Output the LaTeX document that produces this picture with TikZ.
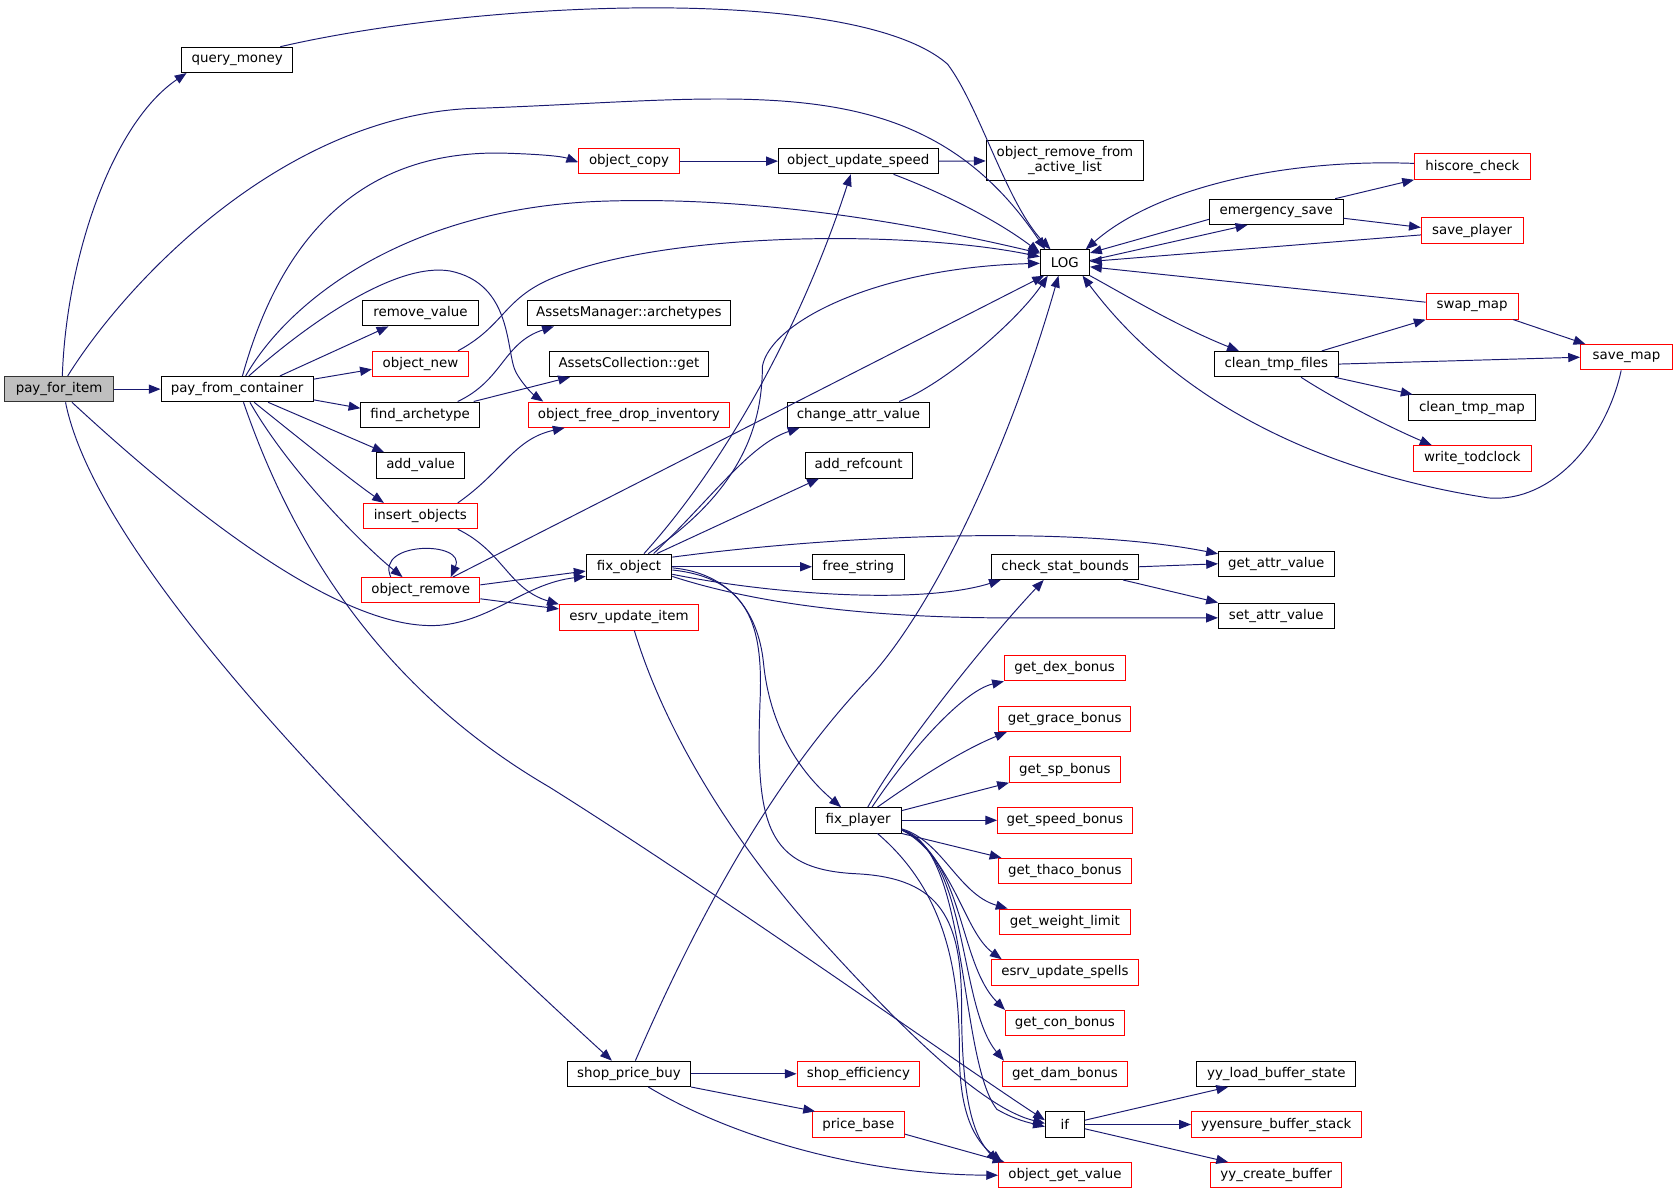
\documentclass[tikz,border=0pt]{standalone}
\usepackage{fontspec}
\setmainfont{DejaVu Sans}
\usetikzlibrary{arrows.meta}
\definecolor{edgeblue}{HTML}{191970}
\definecolor{rootgray}{HTML}{BFBFBF}

\begin{document}
\begin{tikzpicture}[x=1pt,y=-1pt,
    fn/.style={draw=black, fill=white, line width=0.9pt, minimum height=23.7pt, inner sep=0pt, font=\fontsize{12.5}{14}\selectfont},
    fnred/.style={fn, draw=red},
    fnroot/.style={fn, fill=rootgray, draw=black!80},
    call/.style={draw=edgeblue, line width=0.9pt, -{Triangle[length=11pt,width=8.5pt]}}]
  \fill[white] (0,0) rectangle (1568,1114);
  \useasboundingbox (0,0) rectangle (1568,1114);

  \node[fnroot, minimum width=101.8pt] (pfi) at (55.2,363.4) {pay\_for\_item};
  \node[fn, minimum width=103.7pt] (qmoney) at (221.5,55.9) {query\_money};
  \node[fn, minimum width=142pt] (pfc) at (221.4,363.4) {pay\_from\_container};
  \node[fn, minimum width=114.7pt] (spbuy) at (587.4,1002.8) {shop\_price\_buy};

  \node[fn, minimum width=108pt] (rmval) at (392.7,292.55) {remove\_value};
  \node[fnred, minimum width=90pt] (onew) at (392.7,339.9) {object\_new};
  \node[fn, minimum width=110.8pt] (farch) at (392.4,387.25) {find\_archetype};
  \node[fn, minimum width=83pt] (addval) at (392.7,434.6) {add\_value};
  \node[fnred, minimum width=106pt] (insobj) at (392.5,481.95) {insert\_objects};
  \node[fnred, minimum width=110.4pt] (orem) at (392.9,551.2) {object\_remove};

  \node[fnred, minimum width=94pt] (ocopy) at (587.4,150.5) {object\_copy};
  \node[fn, minimum width=190pt] (amarch) at (587.3,292.55) {AssetsManager::archetypes};
  \node[fn, minimum width=148pt] (acget) at (587.3,339.9) {AssetsCollection::get};
  \node[fnred, minimum width=187pt] (ofdi) at (587.3,387.25) {object\_free\_drop\_inventory};
  \node[fn, minimum width=80pt] (fixobj) at (587.4,529.3) {fix\_object};
  \node[fnred, minimum width=130pt] (esrvitem) at (587.4,576.65) {esrv\_update\_item};

  \node[fn, minimum width=149pt] (ouspeed) at (801.5,150.5) {object\_update\_speed};
  \node[fn, minimum width=133.4pt] (chattr) at (801.7,387.25) {change\_attr\_value};
  \node[fn, minimum width=100pt] (addref) at (801.8,434.6) {add\_refcount};
  \node[fn, minimum width=86pt] (freestr) at (801.7,529.3) {free\_string};
  \node[fn, minimum width=80.4pt] (fixpl) at (801.4,766.05) {fix\_player};
  \node[fnred, minimum width=114.7pt] (shopeff) at (801.7,1002.8) {shop\_efficiency};
  \node[fnred, minimum width=86pt] (pbase) at (801.6,1050.15) {price\_base};

  \node[fn, minimum width=147pt, minimum height=37.4pt, align=center] (orfal) at (994.5,150.3) {object\_remove\_from\\\_active\_list};
  \node[fn, minimum width=46pt] (log) at (994.5,245.2) {LOG};
  \node[fn, minimum width=137pt] (csb) at (994.7,529.3) {check\_stat\_bounds};
  \node[fnred, minimum width=112.6pt] (gdex) at (994.3,624) {get\_dex\_bonus};
  \node[fnred, minimum width=123.3pt] (ggrace) at (994.3,671.35) {get\_grace\_bonus};
  \node[fnred, minimum width=103.6pt] (gsp) at (994.5,718.7) {get\_sp\_bonus};
  \node[fnred, minimum width=125.7pt] (gspeed) at (994.5,766.05) {get\_speed\_bonus};
  \node[fnred, minimum width=123.6pt] (gthaco) at (994.5,813.4) {get\_thaco\_bonus};
  \node[fnred, minimum width=122.2pt] (gweight) at (994.5,860.75) {get\_weight\_limit};
  \node[fnred, minimum width=137.2pt] (esrvspells) at (994.5,908.1) {esrv\_update\_spells};
  \node[fnred, minimum width=111pt] (gcon) at (994.5,955.45) {get\_con\_bonus};
  \node[fnred, minimum width=117pt] (gdam) at (994.5,1002.8) {get\_dam\_bonus};
  \node[fn, minimum width=36.4pt] (nif) at (994.5,1050.15) {if};
  \node[fnred, minimum width=124pt] (ogv) at (994.5,1097.5) {object\_get\_value};

  \node[fn, minimum width=125pt] (esave) at (1191.9,197.85) {emergency\_save};
  \node[fn, minimum width=116pt] (ctfiles) at (1192,340) {clean\_tmp\_files};
  \node[fn, minimum width=108pt] (getattr) at (1191.9,526.5) {get\_attr\_value};
  \node[fn, minimum width=108pt] (setattr) at (1191.9,575) {set\_attr\_value};
  \node[fn, minimum width=148.5pt] (yyload) at (1191.9,1002.8) {yy\_load\_buffer\_state};
  \node[fnred, minimum width=158.4pt] (yyensure) at (1191.9,1050.15) {yyensure\_buffer\_stack};
  \node[fnred, minimum width=122.3pt] (yycreate) at (1191.9,1097.5) {yy\_create\_buffer};

  \node[fnred, minimum width=108pt] (hiscore) at (1375,155.6) {hiscore\_check};
  \node[fnred, minimum width=95pt] (splayer) at (1374.8,215.4) {save\_player};
  \node[fnred, minimum width=86pt] (swapmap) at (1374.8,286.2) {swap\_map};
  \node[fn, minimum width=118pt] (ctmap) at (1374.7,380.7) {clean\_tmp\_map};
  \node[fnred, minimum width=110pt] (todclock) at (1375,428) {write\_todclock};
  \node[fnred, minimum width=86pt] (savemap) at (1519,333.6) {save\_map};

  % pay_for_item
  \draw[call] ([xshift=3]pfi.north) .. controls (62,240) and (105,115) .. ([xshift=5]qmoney.south west);
  \draw[call] ([xshift=8]pfi.north) .. controls (120,260) and (270,103) .. (450,101) .. controls (700,92) and (860,60) .. ([xshift=5]log.north west);
  \draw[call] (pfi.east) -- (pfc.west);
  \draw[call] ([xshift=12]pfi.south) .. controls (180,480) and (320,590) .. (410,584) .. controls (460,580) and (490,545) .. ([yshift=-9]fixobj.west);
  \draw[call] ([xshift=6]pfi.south) .. controls (90,520) and (330,770) .. ([xshift=-16]spbuy.north);
  \draw[call] ([xshift=-12]qmoney.north east) .. controls (450,0) and (800,-15) .. (885,60) .. controls (915,100) and (940,190) .. ([xshift=10]log.north west);

  % pay_from_container
  \draw[call] ([xshift=5]pfc.north) .. controls (260,230) and (330,140) .. (470,143) .. controls (505,144) and (525,146) .. ([yshift=-1]ocopy.west);
  \draw[call] ([xshift=8]pfc.north) .. controls (270,280) and (380,195) .. (560,188) .. controls (720,182) and (880,215) .. ([yshift=8.7]log.west);
  \draw[call] ([xshift=11]pfc.north) .. controls (290,300) and (370,245) .. (420,253) .. controls (480,265) and (472,330) .. (482,348) .. controls (490,362) and (500,370) .. ([xshift=-80]ofdi.north);
  \draw[call] ([xshift=40]pfc.north) -- ([xshift=-30]rmval.south);
  \draw[call] ([yshift=-3]pfc.north east) -- ([yshift=-5]onew.west);
  \draw[call] ([yshift=-10]pfc.east) -- ([yshift=6]farch.west);
  \draw[call] ([xshift=29]pfc.south) -- ([xshift=-34]addval.north);
  \draw[call] ([xshift=16]pfc.south) .. controls (280,410) and (330,450) .. ([xshift=-34]insobj.north);
  \draw[call] ([xshift=12]pfc.south) .. controls (270,440) and (340,510) .. ([xshift=-17]orem.north);
  \draw[call] ([xshift=6]pfc.south) .. controls (270,500) and (350,640) .. (513,735) .. controls (680,840) and (890,990) .. ([yshift=4]nif.west);

  \draw[call] ([xshift=35]onew.north) .. controls (470,305) and (470,280) .. (513,261) .. controls (620,215) and (850,215) .. ([yshift=5.5]log.west);
  \draw[call] ([xshift=35]farch.north) .. controls (470,355) and (470,320) .. ([xshift=-70]amarch.south);
  \draw[call] ([xshift=50]farch.north) -- ([xshift=-55]acget.south);
  \draw[call] ([xshift=35]insobj.north) .. controls (470,440) and (480,410) .. ([xshift=-60]ofdi.south);
  \draw[call] ([xshift=35]insobj.south) .. controls (470,515) and (475,550) .. (esrvitem.north west);
  \draw[call] ([xshift=-28]orem.north) .. controls (350,505) and (436,505) .. ([xshift=28]orem.north);
  \draw[call] ([xshift=30]orem.north) -- ([xshift=4]log.south west);
  \draw[call] ([yshift=5]orem.east) -- ([yshift=-4]fixobj.west);
  \draw[call] ([yshift=-8]orem.east) -- ([yshift=8]esrvitem.west);

  % fix_object
  \draw[call] (ocopy.east) -- (ouspeed.west);
  \draw[call] (ouspeed.east) -- (orfal.west);
  \draw[call] ([xshift=33]ouspeed.south) .. controls (880,180) and (930,205) .. ([yshift=-3]log.north west);
  \draw[call] ([xshift=14]fixobj.north) .. controls (680,430) and (750,300) .. ([xshift=-7]ouspeed.south);
  \draw[call] ([xshift=18]fixobj.north) .. controls (690,460) and (712,400) .. (712,342) .. controls (720,300) and (820,250) .. ([yshift=-0.7]log.west);
  \draw[call] ([xshift=23]fixobj.north) .. controls (665,465) and (700,415) .. ([xshift=-55]chattr.south);
  \draw[call] ([xshift=26]fixobj.north) -- ([xshift=-37]addref.south);
  \draw[call] (fixobj.east) -- (freestr.west);
  \draw[call] ([yshift=9]fixobj.east) .. controls (780,500) and (1000,490) .. ([yshift=-3]getattr.north west);
  \draw[call] ([yshift=-7]fixobj.east) .. controls (720,555) and (860,565) .. ([xshift=-60]csb.south);
  \draw[call] ([yshift=-9]fixobj.east) .. controls (710,565) and (820,578) .. (960,577) -- ([yshift=-2]setattr.west);
  \draw[call] ([yshift=-1]fixobj.east) .. controls (680,535) and (708,570) .. (713,619) .. controls (718,670) and (740,715) .. ([xshift=-16]fixpl.north);
  \draw[call] ([yshift=-3]fixobj.east) .. controls (700,540) and (712,585) .. (710,650) .. controls (705,770) and (715,812) .. (800,816) .. controls (880,820) and (898,860) .. (898,940) .. controls (898,1030) and (910,1062) .. (ogv.north west);
  \draw[call] ([xshift=5]esrvitem.south) .. controls (620,680) and (680,780) .. (760,870) .. controls (850,970) and (920,1035) .. ([yshift=1]nif.west);
  \draw[call] ([xshift=38]chattr.north) .. controls (880,360) and (950,300) .. ([xshift=-16]log.south);

  % fix_player
  \draw[call] ([xshift=9]fixpl.north) .. controls (840,700) and (920,600) .. ([xshift=-20]csb.south);
  \draw[call] ([xshift=13]fixpl.north) .. controls (850,700) and (900,645) .. (gdex.south west);
  \draw[call] ([xshift=18]fixpl.north) .. controls (860,725) and (900,700) .. ([xshift=8]ggrace.south west);
  \draw[call] ([yshift=9]fixpl.east) -- (gsp.south west);
  \draw[call] (fixpl.east) -- (gspeed.west);
  \draw[call] (fixpl.south east) -- ([xshift=3]gthaco.north west);
  \draw[call] ([yshift=-8]fixpl.east) .. controls (880,785) and (895,835) .. ([xshift=8]gweight.north west);
  \draw[call] ([yshift=-9]fixpl.east) .. controls (890,800) and (900,870) .. ([xshift=10]esrvspells.north west);
  \draw[call] ([yshift=-9]fixpl.east) .. controls (900,800) and (895,900) .. (gcon.north west);
  \draw[call] ([yshift=-9]fixpl.east) .. controls (905,800) and (895,940) .. ([xshift=2]gdam.north west);
  \draw[call] ([yshift=-9]fixpl.east) .. controls (905,790) and (895,990) .. (931,1036) .. controls (945,1044) and (955,1047) .. ([yshift=-2]nif.west);
  \draw[call] ([xshift=18]fixpl.south) .. controls (880,830) and (896,900) .. (896,983) .. controls (896,1040) and (910,1065) .. ([xshift=4]ogv.north west);
  \draw[call] (csb.east) -- (getattr.west);
  \draw[call] ([xshift=-15]csb.south east) -- (setattr.north west);

  % shop_price_buy
  \draw[call] ([xshift=6]spbuy.north) .. controls (650,860) and (720,730) .. (810,635) .. controls (875,565) and (945,410) .. ([xshift=-6]log.south);
  \draw[call] (spbuy.east) -- (shopeff.west);
  \draw[call] (spbuy.south east) -- ([xshift=3]pbase.north west);
  \draw[call] ([xshift=18]spbuy.south) .. controls (680,1060) and (800,1097) .. (ogv.west);
  \draw[call] ([yshift=-9]pbase.east) -- ([xshift=6]ogv.north west);
  \draw[call] ([yshift=4]nif.east) -- ([xshift=-45]yyload.south);
  \draw[call] (nif.east) -- (yyensure.west);
  \draw[call] ([yshift=-4]nif.east) -- ([xshift=-45]yycreate.north);

  % LOG
  \draw[call] ([yshift=2]log.east) -- ([xshift=-27]esave.south);
  \draw[call] (log.south east) .. controls (1050,275) and (1100,305) .. ([xshift=-35]ctfiles.north);
  \draw[call] ([yshift=-7]esave.west) -- ([yshift=9]log.east);
  \draw[call] ([xshift=-8]esave.north east) -- (hiscore.south west);
  \draw[call] ([yshift=-6]esave.east) -- ([yshift=3]splayer.west);
  \draw[call] ([yshift=3]hiscore.west) .. controls (1200,148) and (1080,175) .. ([xshift=-4]log.north east);
  \draw[call] ([yshift=-4]splayer.west) -- ([yshift=1]log.east);
  \draw[call] ([yshift=4]swapmap.west) -- ([yshift=-4]log.east);
  \draw[call] ([xshift=-5]swapmap.south east) -- ([xshift=5]savemap.north west);
  \draw[call] ([xshift=-16]ctfiles.north east) -- (swapmap.south west);
  \draw[call] (ctfiles.east) -- (savemap.west);
  \draw[call] ([xshift=-4]ctfiles.south east) -- ([xshift=4]ctmap.north west);
  \draw[call] ([xshift=23]ctfiles.south) .. controls (1250,375) and (1300,400) .. ([xshift=-38]todclock.north);
  \draw[call] ([xshift=-5]savemap.south) .. controls (1500,410) and (1450,470) .. (1390,465) .. controls (1260,445) and (1110,390) .. ([xshift=-7]log.south east);
\end{tikzpicture}
\end{document}
